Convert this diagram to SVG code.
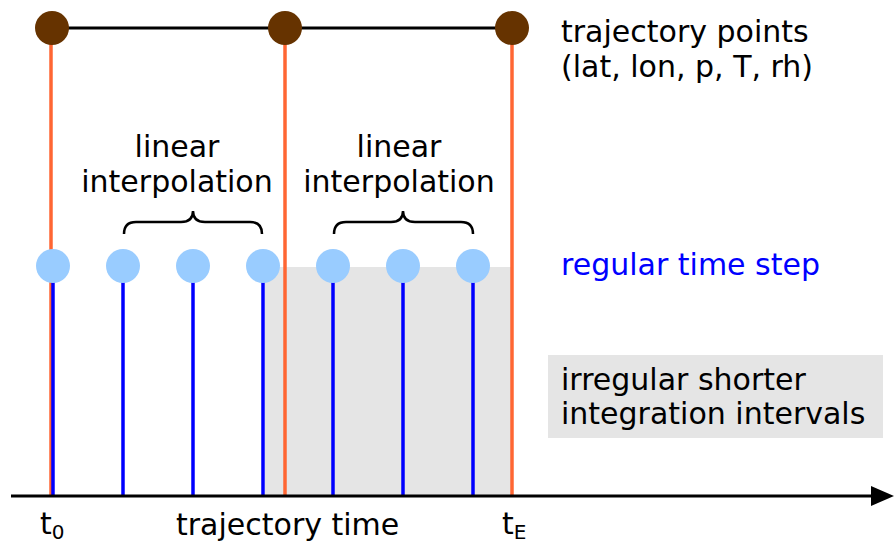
<svg xmlns="http://www.w3.org/2000/svg" width="894" height="543" viewBox="0 0 894 543">
<defs>
<style>
text{font-family:"DejaVu Sans","Liberation Sans",sans-serif;font-size:30px;fill:#000}
.blue{fill:#0000ff}
.traj{stroke:#ff6633;stroke-width:3.5;fill:none}
.step{stroke:#0000ff;stroke-width:3.5;fill:none}
.pt{fill:#663300}
.dot{fill:#99ccff}
.brace{stroke:#000;stroke-width:2.5;fill:none}
</style>
</defs>
<rect x="265" y="267" width="247" height="229" fill="#e5e5e5"/>
<g id="connectors">
<line x1="52" y1="28" x2="512" y2="28" stroke="#000" stroke-width="3"/>
<line class="traj" x1="51" y1="28" x2="51" y2="496"/>
<line class="traj" x1="285" y1="28" x2="285" y2="496"/>
<line class="traj" x1="512" y1="28" x2="512" y2="496"/>
<line class="step" x1="53" y1="266" x2="53" y2="496"/>
<line class="step" x1="123" y1="266" x2="123" y2="496"/>
<line class="step" x1="193" y1="266" x2="193" y2="496"/>
<line class="step" x1="263" y1="266" x2="263" y2="496"/>
<line class="step" x1="333" y1="266" x2="333" y2="496"/>
<line class="step" x1="403" y1="266" x2="403" y2="496"/>
<line class="step" x1="473" y1="266" x2="473" y2="496"/>
<line x1="11" y1="496" x2="874" y2="496" stroke="#000" stroke-width="3"/>
<polygon points="871,486 894,496 871,506" fill="#000"/>
</g>
<g id="trajectory-points">
<circle class="pt" cx="52" cy="28" r="17"/>
<circle class="pt" cx="285" cy="28" r="17"/>
<circle class="pt" cx="512" cy="28" r="17"/>
</g>
<g id="time-steps">
<circle class="dot" cx="53" cy="266" r="17"/>
<circle class="dot" cx="123" cy="266" r="17"/>
<circle class="dot" cx="193" cy="266" r="17"/>
<circle class="dot" cx="263" cy="266" r="17"/>
<circle class="dot" cx="333" cy="266" r="17"/>
<circle class="dot" cx="403" cy="266" r="17"/>
<circle class="dot" cx="473" cy="266" r="17"/>
</g>
<g id="interp1">
<path class="brace" d="M124,234 Q124,222 136,222 L181,222 Q193,222 193,211 Q193,222 205,222 L250,222 Q262,222 262,234"/>
<text x="177" y="157" text-anchor="middle">linear</text>
<text x="177" y="192" text-anchor="middle">interpolation</text>
</g>
<g id="interp2">
<path class="brace" d="M334,234 Q334,222 346,222 L391,222 Q403,222 403,211 Q403,222 415,222 L461,222 Q473,222 473,234"/>
<text x="399" y="157" text-anchor="middle">linear</text>
<text x="399" y="192" text-anchor="middle">interpolation</text>
</g>
<g id="legend-traj">
<text x="561" y="42">trajectory points</text>
<text x="561" y="77">(lat, lon, p, T, rh)</text>
</g>
<g id="legend-step">
<text x="561" y="275" class="blue">regular time step</text>
</g>
<g id="legend-interval">
<rect x="548" y="355" width="335" height="83" fill="#e5e5e5"/>
<text x="561" y="390">irregular shorter</text>
<text x="561" y="424">integration intervals</text>
</g>
<g id="axis-labels">
<text x="40" y="534">t<tspan font-size="20" dy="5">0</tspan></text>
<text x="176" y="535">trajectory time</text>
<text x="502" y="534">t<tspan font-size="20" dy="5">E</tspan></text>
</g>
</svg>
